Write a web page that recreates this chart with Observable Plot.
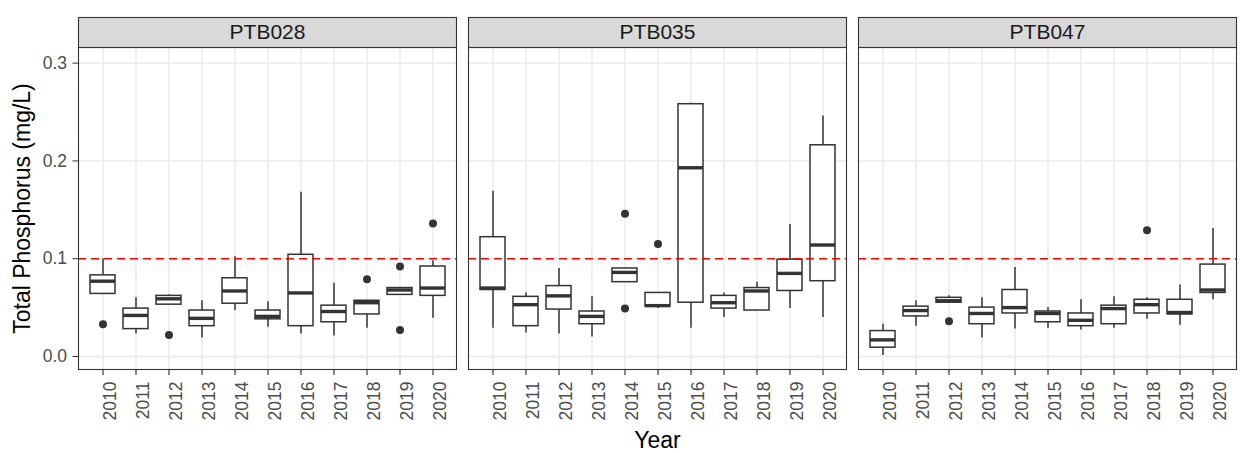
<!DOCTYPE html>
<html>
<head>
<meta charset="utf-8">
<script src="https://cdn.jsdelivr.net/npm/d3@7"></script>
<script src="https://cdn.jsdelivr.net/npm/@observablehq/plot@0.6"></script>
<style>
  html, body { margin: 0; padding: 0; background: #ffffff; }
</style>
</head>
<body>
<div id="chart"></div>
<script>
const years = [2010, 2011, 2012, 2013, 2014, 2015, 2016, 2017, 2018, 2019, 2020];
const sites = ["PTB028", "PTB035", "PTB047"];
const yTicks = [0, 0.1, 0.2, 0.3];
const threshold = [0.1];
const xTitle = "Year";
const yTitle = "Total Phosphorus (mg/L)";

// PTB028 box statistics per year
const ptb028Lo  = [0.064, 0.023, 0.053, 0.019, 0.047, 0.030, 0.023, 0.021, 0.029, 0.063, 0.039];
const ptb028Q1  = [0.064, 0.028, 0.053, 0.031, 0.054, 0.038, 0.031, 0.035, 0.043, 0.063, 0.062];
const ptb028Med = [0.077, 0.042, 0.059, 0.039, 0.067, 0.041, 0.065, 0.046, 0.055, 0.068, 0.070];
const ptb028Q3  = [0.083, 0.049, 0.062, 0.047, 0.080, 0.047, 0.104, 0.052, 0.057, 0.070, 0.092];
const ptb028Hi  = [0.100, 0.060, 0.063, 0.057, 0.102, 0.056, 0.168, 0.075, 0.057, 0.070, 0.098];
const ptb028OutYears = [2010, 2012, 2018, 2019, 2019, 2020];
const ptb028OutVals  = [0.033, 0.022, 0.079, 0.092, 0.027, 0.136];

// PTB035
const ptb035Lo  = [0.029, 0.024, 0.023, 0.020, 0.076, 0.049, 0.029, 0.040, 0.047, 0.049, 0.040];
const ptb035Q1  = [0.068, 0.031, 0.048, 0.033, 0.076, 0.051, 0.055, 0.049, 0.047, 0.067, 0.077];
const ptb035Med = [0.070, 0.053, 0.062, 0.041, 0.086, 0.052, 0.193, 0.055, 0.067, 0.085, 0.114];
const ptb035Q3  = [0.122, 0.061, 0.072, 0.046, 0.090, 0.065, 0.258, 0.062, 0.070, 0.099, 0.216];
const ptb035Hi  = [0.169, 0.065, 0.090, 0.061, 0.090, 0.065, 0.259, 0.065, 0.076, 0.135, 0.246];
const ptb035OutYears = [2014, 2014, 2015];
const ptb035OutVals  = [0.146, 0.049, 0.115];

// PTB047
const ptb047Lo  = [0.001, 0.031, 0.055, 0.019, 0.028, 0.029, 0.027, 0.029, 0.038, 0.032, 0.058];
const ptb047Q1  = [0.009, 0.041, 0.055, 0.033, 0.044, 0.035, 0.031, 0.033, 0.044, 0.043, 0.065];
const ptb047Med = [0.017, 0.047, 0.057, 0.044, 0.050, 0.044, 0.037, 0.049, 0.053, 0.045, 0.068];
const ptb047Q3  = [0.026, 0.051, 0.060, 0.050, 0.068, 0.046, 0.044, 0.052, 0.058, 0.058, 0.094];
const ptb047Hi  = [0.033, 0.057, 0.062, 0.060, 0.091, 0.050, 0.058, 0.061, 0.060, 0.073, 0.131];
const ptb047OutYears = [2012, 2018];
const ptb047OutVals  = [0.036, 0.129];

const stats = {
  PTB028: [ptb028Lo, ptb028Q1, ptb028Med, ptb028Q3, ptb028Hi, ptb028OutYears, ptb028OutVals],
  PTB035: [ptb035Lo, ptb035Q1, ptb035Med, ptb035Q3, ptb035Hi, ptb035OutYears, ptb035OutVals],
  PTB047: [ptb047Lo, ptb047Q1, ptb047Med, ptb047Q3, ptb047Hi, ptb047OutYears, ptb047OutVals]
};

const boxes = sites.flatMap(s => years.map((yr, j) => ({
  site: s, year: yr,
  lo: stats[s][0][j], q1: stats[s][1][j], med: stats[s][2][j], q3: stats[s][3][j], hi: stats[s][4][j]
})));
const outliers = sites.flatMap(s => stats[s][5].map((yr, k) => ({site: s, year: yr, value: stats[s][6][k]})));

const dark = "#333333";
const chart = Plot.plot({
  width: 1242,
  height: 453,
  marginTop: 47,
  marginBottom: 84,
  marginLeft: 78,
  marginRight: 6,
  style: {fontFamily: "'Liberation Sans', Arial, sans-serif", background: "#ffffff"},
  fx: {domain: sites, paddingInner: 12 / 390, paddingOuter: 0, axis: null, label: null},
  x: {type: "band", domain: years, paddingInner: 0.25, paddingOuter: 0.225, label: null},
  y: {domain: [-0.0133, 0.316], label: null},
  marks: [
    Plot.gridX({stroke: "#ebebeb", strokeOpacity: 1, strokeWidth: 1.5}),
    Plot.gridY({ticks: yTicks, stroke: "#ebebeb", strokeOpacity: 1, strokeWidth: 1.5}),
    Plot.ruleX(boxes, {fx: "site", x: "year", y1: "lo", y2: "q1", stroke: dark, strokeWidth: 1.5}),
    Plot.ruleX(boxes, {fx: "site", x: "year", y1: "q3", y2: "hi", stroke: dark, strokeWidth: 1.5}),
    Plot.barY(boxes, {fx: "site", x: "year", y1: "q1", y2: "q3", fill: "#ffffff", stroke: dark, strokeWidth: 1.5}),
    Plot.tickY(boxes, {fx: "site", x: "year", y: "med", stroke: dark, strokeWidth: 3.4}),
    Plot.dot(outliers, {fx: "site", x: "year", y: "value", r: 4, fill: dark, stroke: "none"}),
    Plot.ruleY(threshold, {stroke: "red", strokeWidth: 1.6, strokeDasharray: "8,5"}),
    Plot.frame({stroke: dark, strokeWidth: 1.1}),
    Plot.frame({fill: "#d9d9d9", stroke: dark, strokeWidth: 1.1, insetTop: -30, insetBottom: 322}),
    Plot.text(sites, {fx: d => d, text: d => d, frameAnchor: "top", lineAnchor: "middle", dy: -15, fontSize: 21, fill: "#1a1a1a"}),
    // tick marks only
    Plot.axisX({tickSize: 6, fill: "none", stroke: dark, strokeWidth: 1.2, tickFormat: () => "", label: null}),
    // rotated tick labels, nudged right as in the reference
    Plot.axisX({tickRotate: -90, tickSize: 0, tickPadding: 12, dx: 7, fontSize: 17.5, fill: "#4d4d4d", tickFormat: d => String(d), label: null}),
    Plot.axisY({ticks: yTicks, tickFormat: ".1f", tickSize: 5.5, tickPadding: 6, fontSize: 17.5, fill: "#4d4d4d", stroke: dark, label: null}),
    Plot.text([xTitle], {fx: [sites[1]], text: d => d, frameAnchor: "bottom", lineAnchor: "middle", dy: 71, fontSize: 23, fill: "#000000"}),
    Plot.text([yTitle], {fx: [sites[0]], text: d => d, frameAnchor: "left", textAnchor: "middle", lineAnchor: "middle", dx: -56, rotate: -90, fontSize: 23, fill: "#000000"})
  ]
});
document.getElementById("chart").appendChild(chart);
</script>
</body>
</html>
